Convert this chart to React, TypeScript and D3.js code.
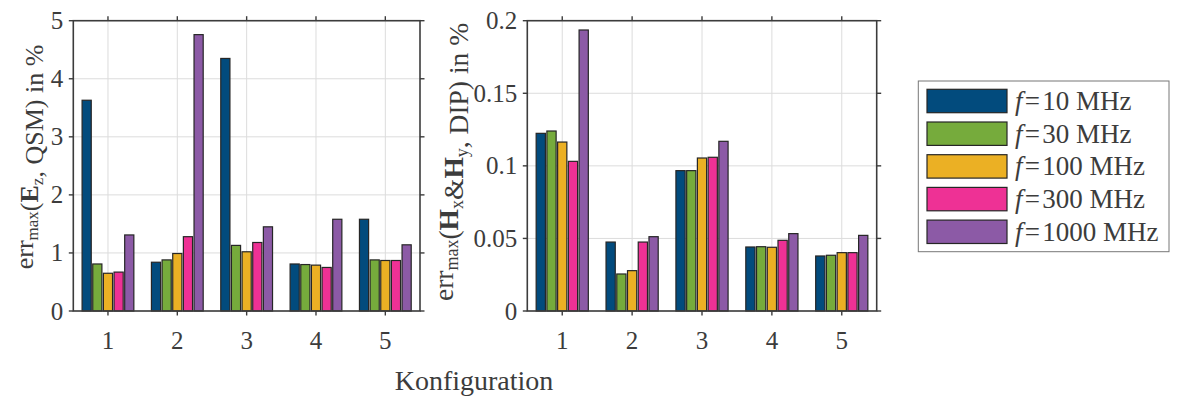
import { useEffect, useRef } from "react";
import * as d3 from "d3";

const configs = ["1", "2", "3", "4", "5"];
const seriesNames = ["10", "30", "100", "300", "1000"];
const seriesColors = ["#024b7d", "#76ab3c", "#ebb024", "#ee3195", "#8c5aa6"];

// err_max(E_z, QSM) in %, one row per frequency
const ezValues = [
  [3.63, 0.84, 4.35, 0.81, 1.58],
  [0.81, 0.88, 1.13, 0.8, 0.88],
  [0.65, 0.99, 1.02, 0.79, 0.87],
  [0.67, 1.28, 1.18, 0.75, 0.87],
  [1.31, 4.76, 1.45, 1.58, 1.14],
];
// err_max(H_x & H_y, DIP) in %
const hValues = [
  [0.1224, 0.0475, 0.0967, 0.0441, 0.0379],
  [0.124, 0.0255, 0.0967, 0.0443, 0.0384],
  [0.1164, 0.0278, 0.1054, 0.0439, 0.0402],
  [0.1031, 0.0475, 0.1059, 0.0487, 0.0402],
  [0.1936, 0.0512, 0.1169, 0.0533, 0.0521],
];
const ezTicks = [0, 1, 2, 3, 4, 5];
const hTicks = [0, 0.05, 0.1, 0.15, 0.2];
const hTickLabels = ["0", "0.05", "0.1", "0.15", "0.2"];

const FONT = "'Liberation Serif', 'Times New Roman', serif";
const AX = "#3c3c3c";
const GRID = "#dcdcdc";

export default function App() {
  const svgRef = useRef<SVGSVGElement>(null);

  useEffect(() => {
    const el = svgRef.current;
    if (!el) return;
    const svg = d3.select(el);
    svg.selectAll("*").remove();

    const top = 20.7;
    const bottom = 311;

    const drawPanel = (
      x0: number,
      x1: number,
      values: number[][],
      yMax: number,
      ticks: number[],
      tickLabels: string[],
      labelX: number,
      labelY: number,
      labelSize: number,
      label: (t: any, sub: number) => void,
    ) => {
      const g = svg.append("g");
      const xs = d3.scaleLinear().domain([0.5, 5.5]).range([x0, x1]);
      const ys = d3.scaleLinear().domain([0, yMax]).range([bottom, top]);
      const unit = xs(2) - xs(1);
      const gw = unit * 0.768;
      const inner = d3
        .scaleBand<number>()
        .domain(d3.range(seriesNames.length))
        .range([-gw / 2, gw / 2])
        .paddingInner(0.14)
        .paddingOuter(0.07);

      // grid
      g.selectAll(".gx")
        .data(configs)
        .enter()
        .append("line")
        .attr("x1", (d) => xs(+d))
        .attr("x2", (d) => xs(+d))
        .attr("y1", top)
        .attr("y2", bottom)
        .attr("stroke", GRID)
        .attr("stroke-width", 1);
      g.selectAll(".gy")
        .data(ticks)
        .enter()
        .append("line")
        .attr("x1", x0)
        .attr("x2", x1)
        .attr("y1", (d) => ys(d))
        .attr("y2", (d) => ys(d))
        .attr("stroke", GRID)
        .attr("stroke-width", 1);

      // bars
      values.forEach((row, si) => {
        g.selectAll(".b" + si)
          .data(row)
          .enter()
          .append("rect")
          .attr("x", (d, i) => xs(i + 1) + (inner(si) as number))
          .attr("y", (d) => ys(d))
          .attr("width", inner.bandwidth())
          .attr("height", (d) => ys(0) - ys(d))
          .attr("fill", seriesColors[si])
          .attr("stroke", "#262626")
          .attr("stroke-width", 1.2);
      });

      // box
      g.append("rect")
        .attr("x", x0)
        .attr("y", top)
        .attr("width", x1 - x0)
        .attr("height", bottom - top)
        .attr("fill", "none")
        .attr("stroke", AX)
        .attr("stroke-width", 1.6);

      // ticks (outward on all sides)
      const tl = 4.5;
      configs.forEach((c) => {
        const x = xs(+c);
        g.append("line").attr("x1", x).attr("x2", x).attr("y1", bottom).attr("y2", bottom + tl).attr("stroke", AX).attr("stroke-width", 1.4);
        g.append("line").attr("x1", x).attr("x2", x).attr("y1", top).attr("y2", top - tl).attr("stroke", AX).attr("stroke-width", 1.4);
        g.append("text")
          .attr("x", x)
          .attr("y", 349)
          .attr("text-anchor", "middle")
          .attr("fill", AX)
          .style("font-family", FONT)
          .style("font-size", "25px")
          .text(c);
      });
      ticks.forEach((t, i) => {
        const y = ys(t);
        g.append("line").attr("x1", x0).attr("x2", x0 - tl).attr("y1", y).attr("y2", y).attr("stroke", AX).attr("stroke-width", 1.4);
        g.append("line").attr("x1", x1).attr("x2", x1 + tl).attr("y1", y).attr("y2", y).attr("stroke", AX).attr("stroke-width", 1.4);
        g.append("text")
          .attr("x", x0 - 10)
          .attr("y", y + 8.5)
          .attr("text-anchor", "end")
          .attr("fill", AX)
          .style("font-family", FONT)
          .style("font-size", "25px")
          .text(tickLabels[i]);
      });

      // y label
      const t = g
        .append("text")
        .attr("transform", `translate(${labelX},${labelY}) rotate(-90)`)
        .attr("text-anchor", "middle")
        .attr("fill", AX)
        .style("font-family", FONT)
        .style("font-size", labelSize + "px");
      label(t, Math.round(labelSize * 0.66));
    };

    const sub = (t: any, s: string, size: number) => {
      t.append("tspan").attr("dy", 5).style("font-size", size + "px").text(s);
      t.append("tspan").attr("dy", -5).text("");
    };

    drawPanel(73.3, 420, ezValues, 5, ezTicks, ezTicks.map(String), 33, 157, 26, (t, s) => {
      t.append("tspan").text("err");
      sub(t, "max", s);
      t.append("tspan").text("(");
      t.append("tspan").style("font-weight", "bold").text("E");
      sub(t, "z", s);
      t.append("tspan").text(", QSM) in %");
    });
    drawPanel(527.3, 876.7, hValues, 0.2, hTicks, hTickLabels, 453, 162, 27.5, (t, s) => {
      t.append("tspan").text("err");
      sub(t, "max", s);
      t.append("tspan").text("(");
      t.append("tspan").style("font-weight", "bold").text("H");
      sub(t, "x", s);
      t.append("tspan").text("&");
      t.append("tspan").style("font-weight", "bold").text("H");
      sub(t, "y", s);
      t.append("tspan").text(", DIP) in %");
    });

    // shared x label
    svg
      .append("text")
      .attr("x", 474)
      .attr("y", 390)
      .attr("text-anchor", "middle")
      .attr("fill", AX)
      .style("font-family", FONT)
      .style("font-size", "28px")
      .text("Konfiguration");

    // legend
    const lg = svg.append("g");
    lg.append("rect")
      .attr("x", 918.3)
      .attr("y", 81)
      .attr("width", 250.7)
      .attr("height", 170.7)
      .attr("fill", "#fff")
      .attr("stroke", "#777")
      .attr("stroke-width", 1);
    const ly = d3
      .scalePoint<number>()
      .domain(d3.range(seriesNames.length))
      .range([101, 101 + 32.7 * 4]);
    seriesNames.forEach((n, i) => {
      const y = ly(i) as number;
      lg.append("rect")
        .attr("x", 927)
        .attr("y", y - 11.7)
        .attr("width", 80)
        .attr("height", 23.4)
        .attr("fill", seriesColors[i])
        .attr("stroke", "#262626")
        .attr("stroke-width", 1.2);
      const tx = lg
        .append("text")
        .attr("x", 1015)
        .attr("y", y + 9)
        .attr("fill", AX)
        .style("font-family", FONT)
        .style("font-size", "27px");
      tx.append("tspan").style("font-style", "italic").text("f");
      tx.append("tspan").text("\u200A=\u200A" + n + " MHz");
    });
  }, []);

  return (
    <svg
      ref={svgRef}
      width={1177}
      height={399}
      style={{ position: "absolute", left: 0, top: 0, background: "#fff" }}
    />
  );
}
